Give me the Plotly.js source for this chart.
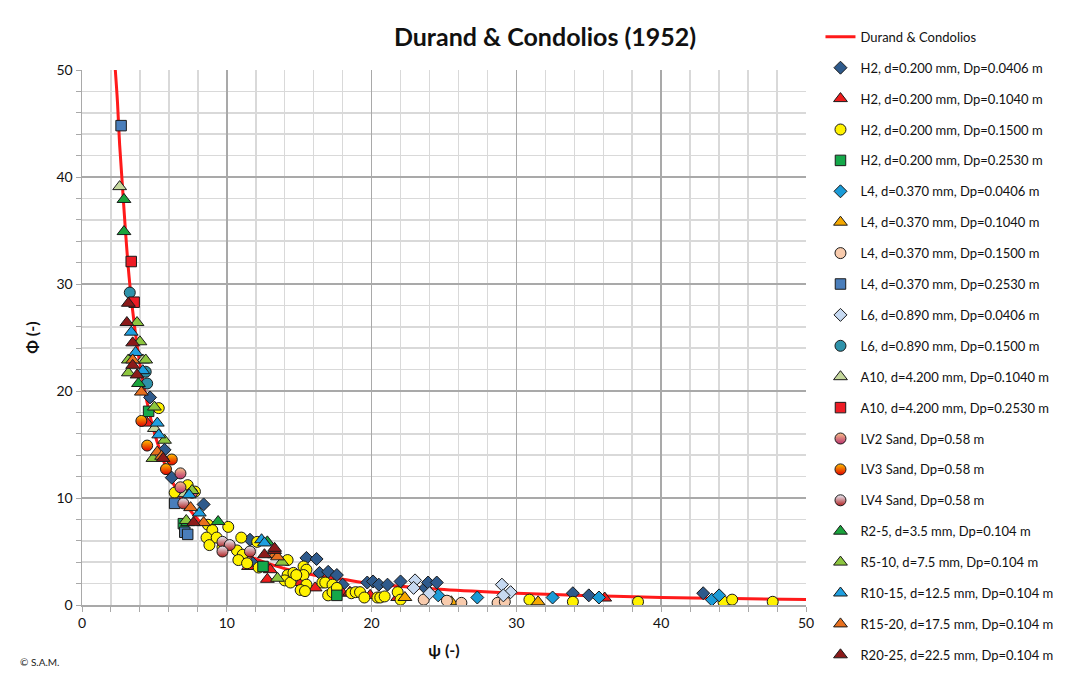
<!DOCTYPE html>
<html>
<head>
<meta charset="utf-8">
<script src="https://cdn.plot.ly/plotly-3.0.1.min.js"></script>
<style>html,body{margin:0;padding:0;background:#fff;}#chart{width:1073px;height:673px;}</style>
</head>
<body>
<div id="chart"></div>
<script>
// Durand & Condolios curve
const durandPsi = [2.3, 2.45, 2.6, 2.8, 3.0, 3.25, 3.5, 3.75, 4.0, 4.5, 5.0, 5.5, 6.0, 7.0, 8.0, 9.0, 10, 12, 14, 16, 18, 20, 25, 30, 35, 40, 45, 50];
const durandPhi = [50, 47, 43, 39, 35, 30.7, 27.5, 24.8, 22.5, 18.9, 16.1, 14.0, 12.2, 9.7, 8.0, 6.7, 5.7, 4.3, 3.4, 2.8, 2.4, 2.0, 1.44, 1.10, 0.87, 0.71, 0.60, 0.51];

// Series names
const seriesNames = [
  "H2, d=0.200 mm, Dp=0.0406 m",
  "H2, d=0.200 mm, Dp=0.1040 m",
  "H2, d=0.200 mm, Dp=0.1500 m",
  "H2, d=0.200 mm, Dp=0.2530 m",
  "L4, d=0.370 mm, Dp=0.0406 m",
  "L4, d=0.370 mm, Dp=0.1040 m",
  "L4, d=0.370 mm, Dp=0.1500 m",
  "L4, d=0.370 mm, Dp=0.2530 m",
  "L6, d=0.890 mm, Dp=0.0406 m",
  "L6, d=0.890 mm, Dp=0.1500 m",
  "A10, d=4.200 mm, Dp=0.1040 m",
  "A10, d=4.200 mm, Dp=0.2530 m",
  "LV2 Sand, Dp=0.58 m",
  "LV3 Sand, Dp=0.58 m",
  "LV4 Sand, Dp=0.58 m",
  "R2-5, d=3.5 mm, Dp=0.104 m",
  "R5-10, d=7.5 mm, Dp=0.104 m",
  "R10-15, d=12.5 mm, Dp=0.104 m",
  "R15-20, d=17.5 mm, Dp=0.104 m",
  "R20-25, d=22.5 mm, Dp=0.104 m"
];

// Series values (psi, phi)
const h2_0406_psi = [4.7, 5.7, 6.2, 8.4, 11.6, 11.8, 15.5, 16.2, 16.4, 17.0, 17.6, 18.0, 19.7, 20.1, 20.5, 21.1, 22.0, 23.7, 23.9, 24.5, 33.9, 35.0, 42.9];
const h2_0406_phi = [19.4, 14.5, 11.9, 9.4, 6.1, 3.9, 4.4, 4.3, 3.0, 3.1, 2.8, 1.9, 2.1, 2.2, 1.9, 1.9, 2.2, 1.6, 2.1, 2.1, 1.1, 0.9, 1.1];

const h2_1040_psi = [4.5, 11.5, 12.8, 13.0, 15.1, 16.1, 18.0, 18.5, 19.9, 21.8, 36.1];
const h2_1040_phi = [17.0, 3.6, 2.4, 3.3, 2.1, 1.6, 1.1, 1.2, 0.9, 0.7, 0.65];

const h2_1500_psi = [5.3, 6.4, 7.3, 7.8, 8.7, 9.0, 8.6, 8.8, 9.3, 10.1, 9.7, 11.0, 10.7, 11.1, 10.8, 11.4, 12.1, 12.2, 14.2, 15.3, 15.5, 15.3, 15.5, 14.2, 14.0, 14.4, 14.6, 14.8, 15.1, 15.4, 16.6, 16.8, 17.3, 17.0, 17.3, 17.6, 18.6, 18.9, 19.2, 19.5, 20.4, 20.6, 20.9, 21.8, 22.0, 30.9, 33.9, 38.4, 44.3, 44.9, 47.7];
const h2_1500_phi = [18.4, 10.5, 11.2, 10.6, 7.5, 7.0, 6.3, 5.6, 6.3, 7.3, 5.4, 6.3, 5.1, 4.7, 4.2, 3.9, 5.9, 3.5, 4.2, 3.6, 3.3, 2.8, 1.9, 2.8, 2.3, 2.1, 3.0, 2.8, 1.4, 1.3, 2.1, 2.1, 1.9, 0.9, 1.2, 1.6, 1.1, 1.2, 1.2, 0.7, 0.7, 0.7, 0.8, 1.2, 0.5, 0.5, 0.3, 0.3, 0.3, 0.5, 0.3];

const h2_2530_psi = [4.6, 7.0, 12.5, 17.6];
const h2_2530_phi = [18.1, 7.6, 3.6, 0.9];

const l4_0406_psi = [24.6, 27.3, 32.5, 35.7, 43.5, 44.0];
const l4_0406_phi = [0.9, 0.7, 0.7, 0.7, 0.5, 0.9];

const l4_1040_psi = [22.3, 25.5, 31.5];
const l4_1040_phi = [0.7, 0.3, 0.3];

const l4_1500_psi = [23.6, 25.2, 26.2, 28.7, 29.2];
const l4_1500_phi = [0.5, 0.4, 0.2, 0.2, 0.3];

const l4_2530_psi = [2.7, 6.4, 7.1, 7.3];
const l4_2530_phi = [44.8, 9.5, 6.8, 6.6];

const l6_0406_psi = [23.0, 22.9, 24.0, 29.0, 29.6, 29.1];
const l6_0406_phi = [2.3, 1.6, 1.1, 1.9, 1.2, 0.9];

const l6_1500_psi = [3.3, 4.4, 4.5];
const l6_1500_phi = [29.2, 21.8, 20.7];

const a10_1040_psi = [2.6, 4.2, 5.0, 7.1];
const a10_1040_phi = [39.1, 22.9, 16.5, 10.4];

const a10_2530_psi = [3.4, 3.6];
const a10_2530_phi = [32.1, 28.3];

const lv2_psi = [6.8, 6.8, 7.6];
const lv2_phi = [12.3, 11.0, 10.5];

const lv3_psi = [4.1, 4.5, 6.2, 5.8];
const lv3_phi = [17.2, 14.9, 13.6, 12.7];

const lv4_psi = [7.0, 9.7, 10.2, 9.7, 11.6];
const lv4_phi = [9.5, 5.9, 5.6, 5.0, 5.0];

const r2_5_psi = [2.9, 2.9, 3.9, 7.3, 9.4, 12.8];
const r2_5_phi = [37.9, 34.9, 20.7, 7.7, 7.8, 5.9];

const r5_10_psi = [3.8, 4.0, 4.4, 3.2, 3.2, 5.0, 5.7, 4.9, 7.6, 13.5, 13.8, 7.2];
const r5_10_phi = [26.4, 24.6, 22.9, 22.9, 21.7, 18.5, 15.4, 13.7, 10.7, 2.5, 4.0, 7.9];

const r10_15_psi = [3.4, 3.7, 4.2, 5.2, 5.3, 7.4, 8.1, 12.4, 12.6];
const r10_15_phi = [25.5, 23.6, 21.9, 17.0, 15.9, 10.3, 8.6, 6.1, 5.8];

const r15_20_psi = [3.5, 4.1, 5.2, 7.5, 8.4, 13.3, 13.5, 5.5];
const r15_20_phi = [22.9, 19.9, 14.3, 9.1, 7.7, 4.7, 4.5, 13.9];

const r20_25_psi = [3.2, 3.1, 3.5, 3.5, 3.8, 5.6, 7.7, 12.6, 13.3, 13.3];
const r20_25_phi = [28.2, 26.4, 24.5, 22.4, 21.5, 13.7, 7.7, 4.7, 5.1, 5.3];

const xTicks = [0, 10, 20, 30, 40, 50];
const yTicks = [0, 10, 20, 30, 40, 50];

// Styles
const styles = [
  {x: h2_0406_psi, y: h2_0406_phi, symbol: "diamond", color: "#2E5A8C", size: 10},
  {x: h2_1040_psi, y: h2_1040_phi, symbol: "triangle-up", color: "#EE1C1C", size: 12},
  {x: h2_1500_psi, y: h2_1500_phi, symbol: "circle", color: "#FFF200", size: 11},
  {x: h2_2530_psi, y: h2_2530_phi, symbol: "square", color: "#14A84A", size: 10.5},
  {x: l4_0406_psi, y: l4_0406_phi, symbol: "diamond", color: "#1A9BD7", size: 10},
  {x: l4_1040_psi, y: l4_1040_phi, symbol: "triangle-up", color: "#F5A800", size: 12},
  {x: l4_1500_psi, y: l4_1500_phi, symbol: "circle", color: "#F8CBAD", size: 11},
  {x: l4_2530_psi, y: l4_2530_phi, symbol: "square", color: "#4A7EBB", size: 10.5},
  {x: l6_0406_psi, y: l6_0406_phi, symbol: "diamond", color: "#C6D9F1", size: 10},
  {x: l6_1500_psi, y: l6_1500_phi, symbol: "circle", color: "#2E92AA", size: 11},
  {x: a10_1040_psi, y: a10_1040_phi, symbol: "triangle-up", color: "#C4D79B", size: 12},
  {x: a10_2530_psi, y: a10_2530_phi, symbol: "square", color: "#EE1C25", size: 10.5},
  {x: lv2_psi, y: lv2_phi, symbol: "circle", color: "#F9C08A", size: 11, grad: "#B8306E"},
  {x: lv3_psi, y: lv3_phi, symbol: "circle", color: "#FFC000", size: 11, grad: "#E00000"},
  {x: lv4_psi, y: lv4_phi, symbol: "circle", color: "#E8EEF8", size: 11, grad: "#B02020"},
  {x: r2_5_psi, y: r2_5_phi, symbol: "triangle-up", color: "#1AA33C", size: 12},
  {x: r5_10_psi, y: r5_10_phi, symbol: "triangle-up", color: "#8DC63F", size: 12},
  {x: r10_15_psi, y: r10_15_phi, symbol: "triangle-up", color: "#1E9FE0", size: 12},
  {x: r15_20_psi, y: r15_20_phi, symbol: "triangle-up", color: "#E8701E", size: 12},
  {x: r20_25_psi, y: r20_25_phi, symbol: "triangle-up", color: "#8B1A1A", size: 12}
];

const traces = [{
  x: durandPsi, y: durandPhi, mode: "lines", name: "Durand & Condolios",
  line: {color: "#FF1A1A", width: 3, shape: "spline"}, legendgroup: "g0"
}];
styles.forEach((s, i) => {
  const m = {symbol: s.symbol, color: s.color, size: s.size, line: {color: "#1a1a1a", width: 1}};
  if (s.grad) m.gradient = {type: "vertical", color: s.grad};
  traces.push({x: s.x, y: s.y, mode: "markers", name: seriesNames[i], marker: m, legendgroup: "g" + (i + 1)});
});

const FONT = "Lato, 'Liberation Sans', sans-serif";
const layout = {
  width: 1073, height: 673,
  margin: {l: 82, r: 267, t: 70, b: 68},
  paper_bgcolor: "#ffffff", plot_bgcolor: "#ffffff",
  font: {family: FONT, color: "#222"},
  title: {text: "<b>Durand & Condolios (1952)</b>", font: {size: 25, family: FONT, color: "#111"}, x: 0.508, xanchor: "center", y: 0.945, yanchor: "middle"},
  xaxis: {
    range: [0, 50], tickvals: xTicks, ticktext: xTicks.map(String),
    showgrid: true, gridcolor: "#a9a9a9", gridwidth: 1.5,
    minor: {dtick: 2, showgrid: true, gridcolor: "#d9d9d9", gridwidth: 1.5, ticks: "outside", ticklen: 5, tickcolor: "#a9a9a9"},
    ticks: "outside", ticklen: 5, tickcolor: "#a9a9a9",
    showline: true, linecolor: "#a9a9a9", linewidth: 1.5, zeroline: false,
    tickfont: {size: 14, family: FONT, color: "#111"},
    title: {text: "<b>ψ (-)</b>", font: {size: 16, family: FONT, color: "#111"}, standoff: 14}
  },
  yaxis: {
    range: [0, 50], tickvals: yTicks, ticktext: yTicks.map(String),
    showgrid: true, gridcolor: "#a9a9a9", gridwidth: 1.5,
    minor: {dtick: 2, showgrid: true, gridcolor: "#d9d9d9", gridwidth: 1.5, ticks: "outside", ticklen: 5, tickcolor: "#a9a9a9"},
    ticks: "outside", ticklen: 5, tickcolor: "#a9a9a9",
    showline: true, linecolor: "#a9a9a9", linewidth: 1.5, zeroline: false,
    tickfont: {size: 14, family: FONT, color: "#111"},
    title: {text: "<b>Φ (-)</b>", font: {size: 16, family: FONT, color: "#111"}, standoff: 14}
  },
  showlegend: true,
  legend: {
    x: 1.02, y: 1.09, xanchor: "left", yanchor: "top",
    font: {size: 13, family: FONT, color: "#111"},
    bgcolor: "rgba(0,0,0,0)", tracegroupgap: 11, traceorder: "grouped",
    itemwidth: 30, maxheight: 672
  },
  annotations: [{
    text: "© S.A.M.", xref: "paper", yref: "paper", x: -0.088, y: -0.106,
    xanchor: "left", yanchor: "middle", showarrow: false, font: {size: 10, family: FONT, color: "#222"}
  }]
};

Plotly.newPlot("chart", traces, layout, {displayModeBar: false, staticPlot: true});
</script>
</body>
</html>
